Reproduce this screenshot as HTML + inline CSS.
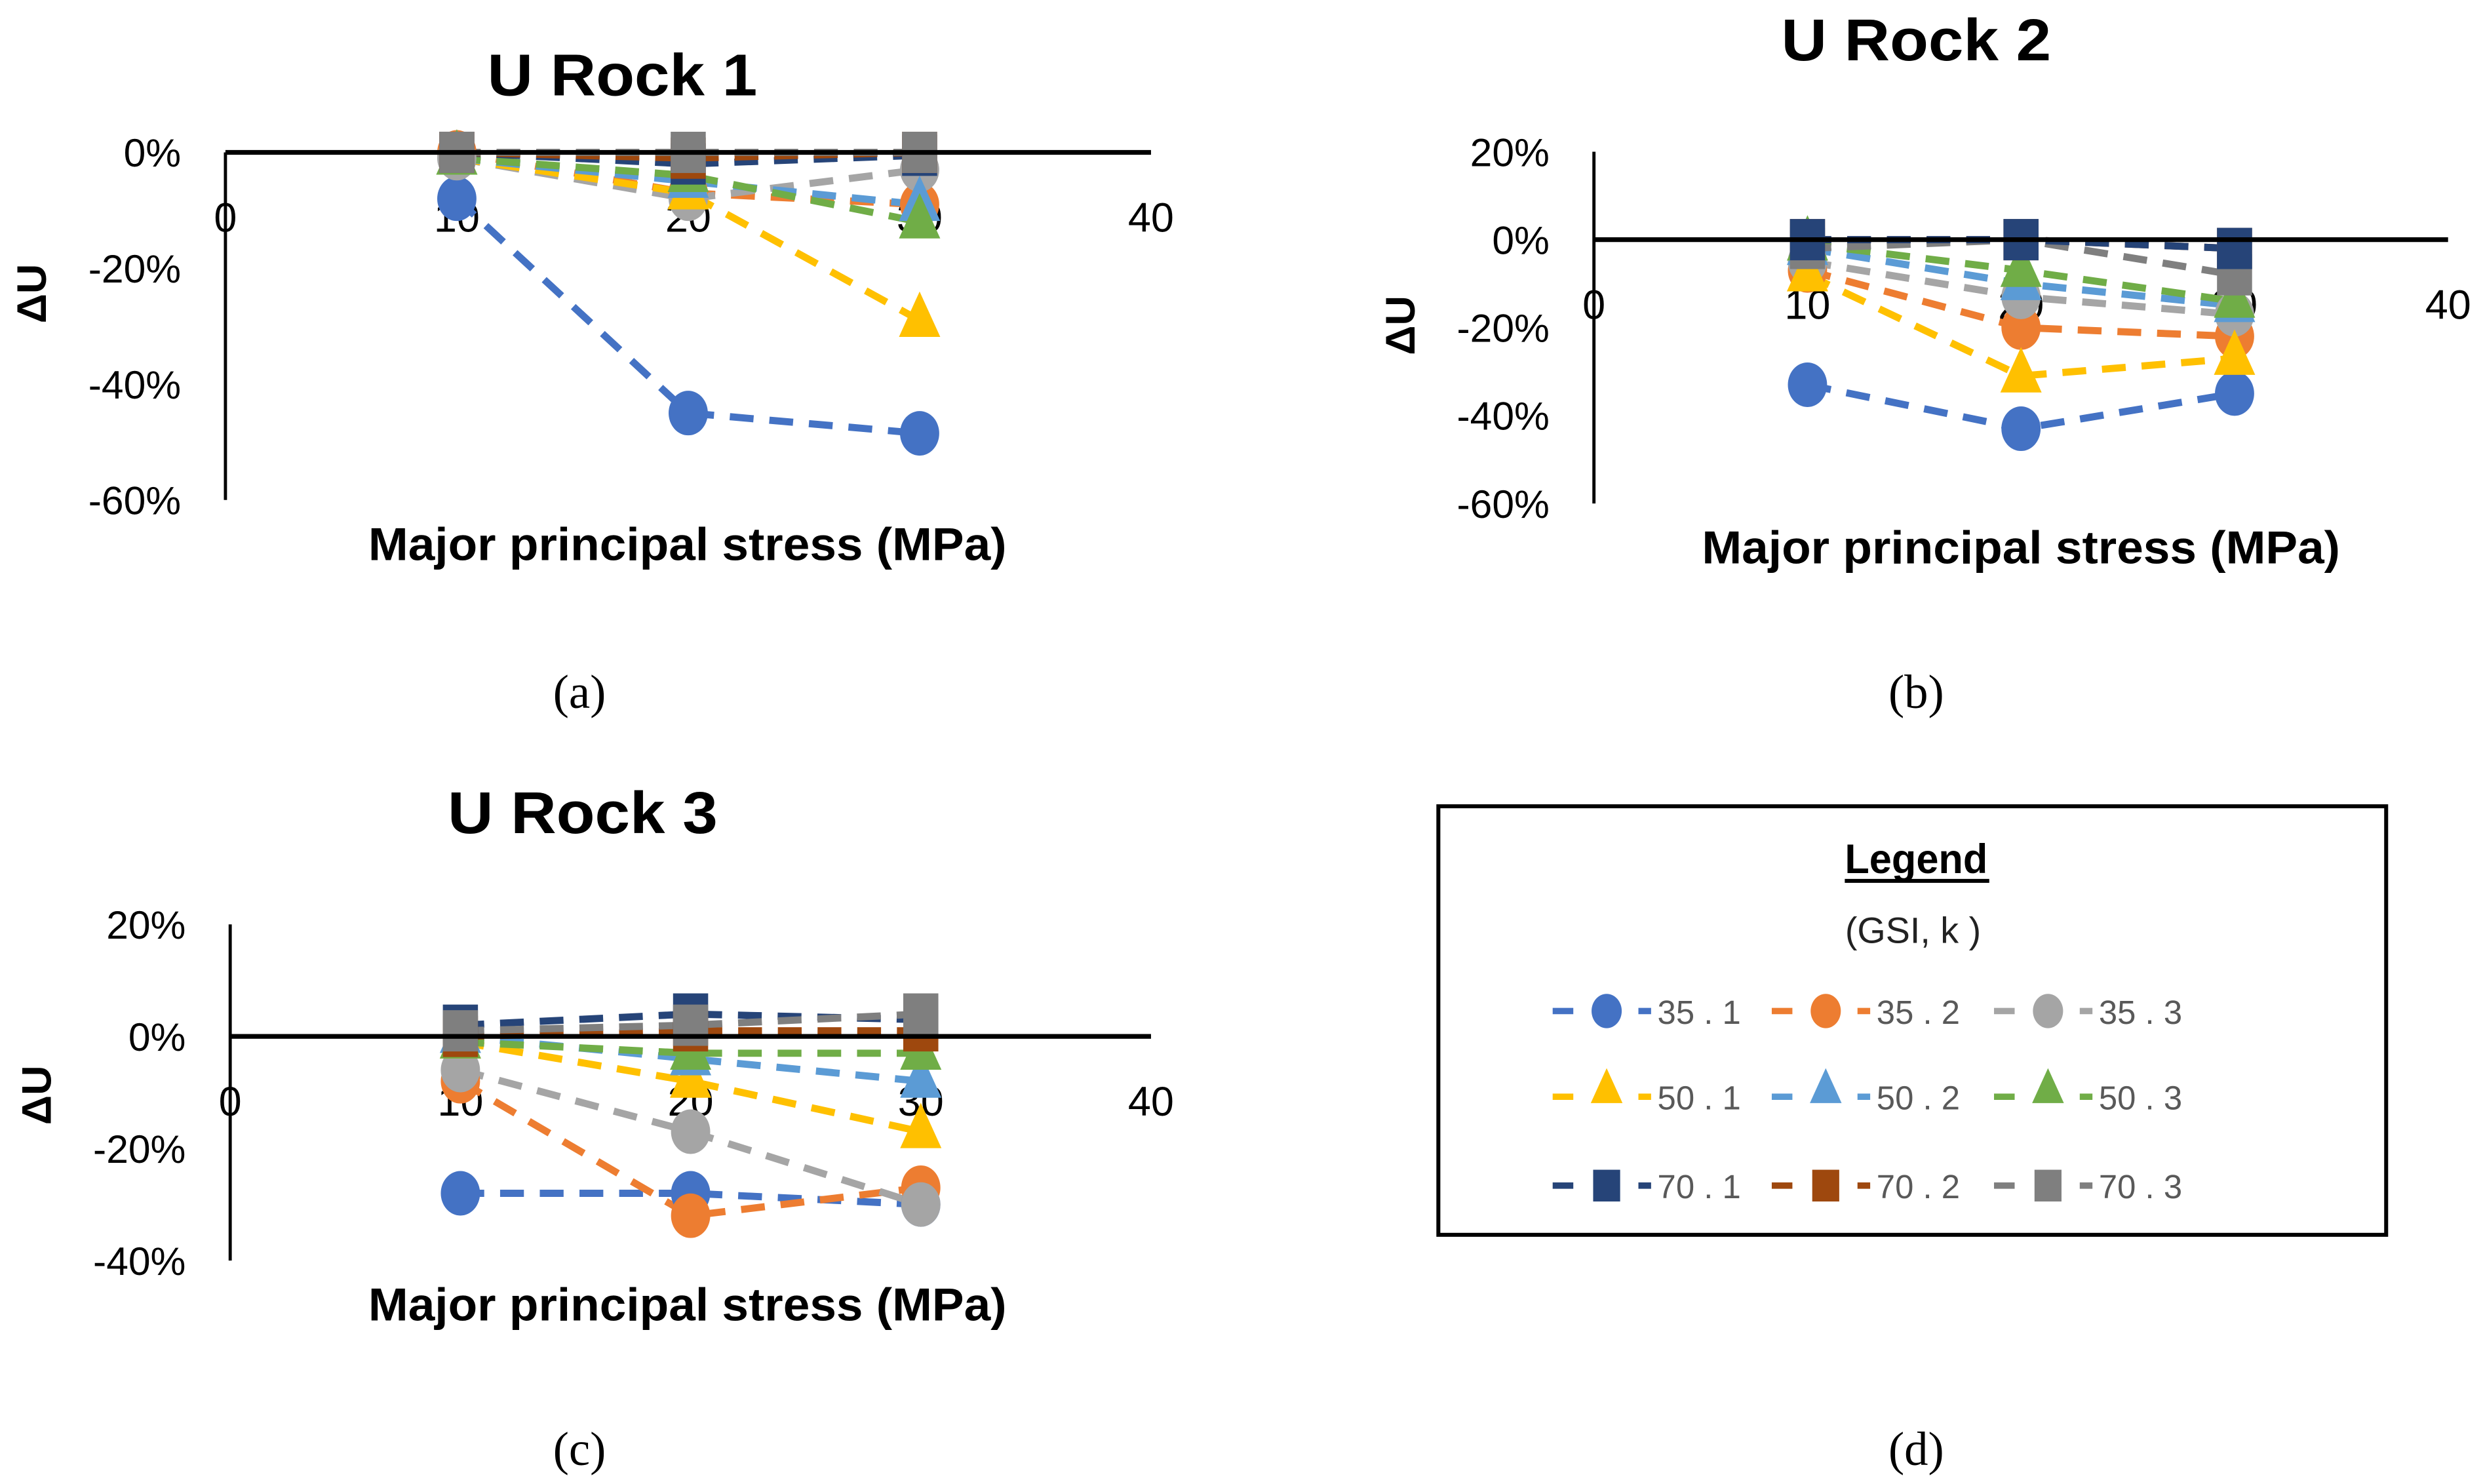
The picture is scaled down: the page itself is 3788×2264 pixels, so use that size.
<!DOCTYPE html>
<html><head><meta charset="utf-8">
<style>html,body{margin:0;padding:0;background:#fff;}svg{display:block;}</style>
</head><body>
<svg id="s" xmlns="http://www.w3.org/2000/svg" width="3788" height="2264" viewBox="0 0 1564 935" preserveAspectRatio="none" font-family="Liberation Sans, sans-serif">
<rect width="1564" height="935" fill="#fff"/>
</svg>
<script>
var S=document.getElementById('s'),NS='http://www.w3.org/2000/svg';
function el(t,a,txt){var e=document.createElementNS(NS,t);for(var k in a)e.setAttribute(k,a[k]);if(txt!=null)e.textContent=txt;S.appendChild(e);return e;}
var C={'35.1':'#4472c4','35.2':'#ed7d31','35.3':'#a5a5a5','50.1':'#ffc000','50.2':'#5b9bd5','50.3':'#70ad47','70.1':'#264478','70.2':'#9e480e','70.3':'#7f7f7f'};
var SH={'35':'c','50':'t','70':'s'};
function marker(x,y,col,sh,r){r=r||13;
 if(sh=='c')el('ellipse',{cx:x,cy:y,rx:r*0.95,ry:r*1.08,fill:col});
 else if(sh=='t')el('polygon',{points:(x)+','+(y-r*1.4)+' '+(x-r)+','+(y+r*0.8)+' '+(x+r)+','+(y+r*0.8),fill:col});
 else el('rect',{x:x-r*0.85,y:y-r,width:r*1.7,height:r*2,fill:col});}
function panel(p){
 var X=function(v){return p.x0+v*p.sx;},Y=function(v){return p.y0-v*p.sy;};
 el('text',{x:p.tx,y:p.ty,'font-size':37,'font-weight':'bold','text-anchor':'middle',textLength:p.tl||170,lengthAdjust:'spacingAndGlyphs'},p.title);
 el('line',{x1:p.x0,y1:Y(p.ymax),x2:p.x0,y2:Y(p.ymin),stroke:'#000','stroke-width':2});
 for(var v=p.ymax;v>=p.ymin;v-=20)el('text',{x:p.x0-28,y:Y(v)+9,'font-size':25,'text-anchor':'end'},v+'%');
 for(var i=0;i<=40;i+=10)el('text',{x:X(i),y:p.y0+50,'font-size':26,'text-anchor':'middle'},i);
 el('text',{x:0,y:0,'font-size':26,'font-weight':'bold','text-anchor':'middle',transform:'translate('+(p.x0-113)+','+(p.ylab)+') rotate(-90)'},'ΔU');
 el('text',{x:p.xt,y:p.xty,'font-size':29,'font-weight':'bold','text-anchor':'middle',textLength:402,lengthAdjust:'spacingAndGlyphs'},'Major principal stress (MPa)');
 var keys=Object.keys(p.d);
 keys.forEach(function(k){var d=p.d[k];
  el('polyline',{points:d.map(function(v,i){return X(10+10*i)+','+Y(v);}).join(' '),fill:'none',stroke:C[k],'stroke-width':4.5,'stroke-dasharray':'15 10'});});
 keys.forEach(function(k){var d=p.d[k];d.forEach(function(v,i){marker(X(10+10*i),Y(v),C[k],SH[k.split('.')[0]]);});});
 el('line',{x1:p.x0,y1:p.y0,x2:X(40),y2:p.y0,stroke:'#000','stroke-width':3});
}
panel({title:'U Rock 1',tx:392,ty:60,x0:142,sx:14.575,y0:96,sy:3.65,ymax:0,ymin:-60,ylab:185,xt:433,xty:353,
 d:{'35.1':[-8,-45,-48.5],'35.2':[0,-7,-9],'35.3':[-1,-8,-3],'50.1':[-1,-7,-29],'50.2':[-1,-5,-9],'50.3':[-1,-4,-12],'70.1':[0,-2,-0.5],'70.2':[0,-1,0],'70.3':[0,0,0]}});
panel({title:'U Rock 2',tx:1207,ty:38,x0:1004,sx:13.45,y0:151,sy:2.77,ymax:20,ymin:-60,ylab:205,xt:1273,xty:355,
 d:{'35.1':[-33,-43,-35],'35.2':[-7,-20,-22],'35.3':[-5,-13,-17],'50.1':[-8,-31,-27],'50.2':[-2,-10,-15],'50.3':[-1,-7,-14],'70.2':[0,0,-2],'70.3':[-2,0,-8],'70.1':[0,0,-2]}});
panel({title:'U Rock 3',tx:367,ty:525,x0:145,sx:14.5,y0:653,sy:3.53,ymax:20,ymin:-40,ylab:690,xt:433,xty:832,
 d:{'35.1':[-28,-28,-30],'35.2':[-8,-32,-27],'35.3':[-6,-17,-30],'50.1':[-1,-8,-17],'50.2':[0,-4,-8],'50.3':[-1,-3,-3],'70.1':[2,4,3],'70.2':[0,1,1],'70.3':[1,2,4]}});
['(a)','(b)','(c)','(d)'].forEach(function(t,i){var pos=[[365,446],[1207,446],[365,923],[1207,923]][i];
 el('text',{x:pos[0],y:pos[1],'font-size':30,'text-anchor':'middle','font-family':'Liberation Serif, serif'},t);});
// legend
el('rect',{x:906,y:508,width:597,height:270,fill:'#fff',stroke:'#000','stroke-width':2.5});
el('text',{x:1207,y:550,'font-size':26,'font-weight':'bold','text-anchor':'middle',textLength:90,lengthAdjust:'spacingAndGlyphs'},'Legend');
el('line',{x1:1162,y1:555,x2:1253,y2:555,stroke:'#000','stroke-width':2.5});
el('text',{x:1205,y:594,'font-size':23,'text-anchor':'middle',fill:'#222'},'(GSI, k )');
var cols=[978,1116,1256],rows=[637,691,747],ks=[['35.1','35.2','35.3'],['50.1','50.2','50.3'],['70.1','70.2','70.3']];
ks.forEach(function(r,ri){r.forEach(function(k,ci){var x=cols[ci],y=rows[ri],c=C[k];
 el('line',{x1:x,y1:y,x2:x+13,y2:y,stroke:c,'stroke-width':4});
 marker(x+34,y-(ri==1?4:0),c,SH[k.split('.')[0]],10);
 el('line',{x1:x+54,y1:y,x2:x+62,y2:y,stroke:c,'stroke-width':4});
 el('text',{x:x+66,y:y+8,'font-size':21,fill:'#595959'},k.replace('.',' . '));});});
</script>
</body></html>
